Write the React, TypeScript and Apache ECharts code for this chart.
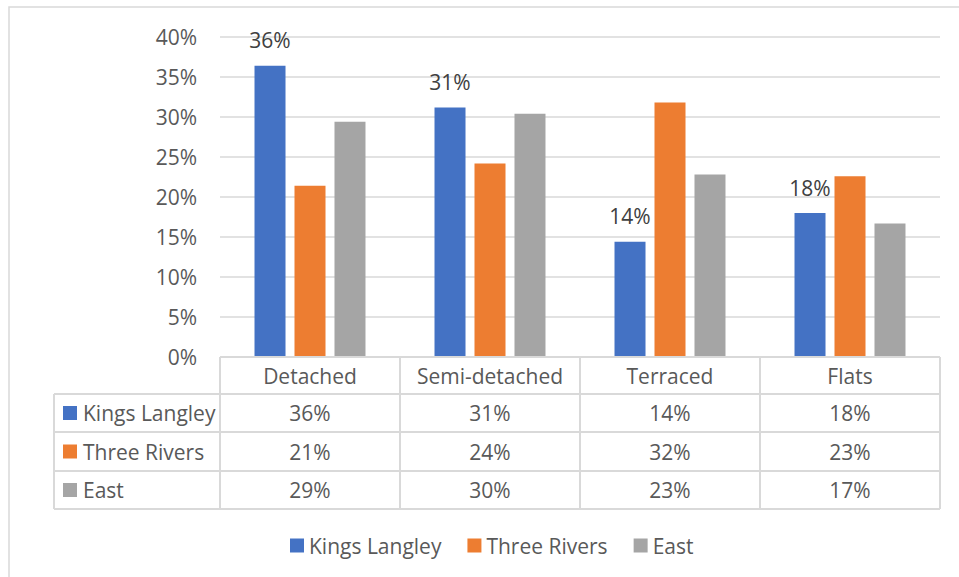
import React, { useEffect, useRef } from "react";
import * as echarts from "echarts";

const categories = ["Detached", "Semi-detached", "Terraced", "Flats"];
const seriesNames = ["Kings Langley", "Three Rivers", "East"];
const kingsLangley = [36.4, 31.2, 14.4, 18.0];
const threeRivers = [21.4, 24.2, 31.8, 22.6];
const east = [29.4, 30.4, 22.8, 16.7];
const yMin = 0;
const yMax = 40;
const yInterval = 5;

const colors = ["#4472C4", "#ED7D31", "#A5A5A5"];
const FONT = "'Open Sans', 'Noto Sans', sans-serif";
const TEXT = "#595959";
const LINE = "#d9d9d9";

const GRID_LEFT = 220;
const GRID_RIGHT_X = 940;
const GRID_TOP = 37;
const GRID_BOTTOM_Y = 357;
const HEADER_BOTTOM = 394;
const ROW_BOTTOMS = [432, 471, 509];
const TABLE_LEFT = 54;

export default function App() {
  const ref = useRef<HTMLDivElement>(null);

  useEffect(() => {
    if (!ref.current) return;
    const chart = echarts.init(ref.current, null, { renderer: "svg" });
    const allSeries = [kingsLangley, threeRivers, east];
    const colW = (GRID_RIGHT_X - GRID_LEFT) / categories.length;

    const graphics: any[] = [];
    // outer frame
    graphics.push({
      type: "rect",
      shape: { x: 9, y: 7, width: 980, height: 600 },
      style: { fill: "none", stroke: LINE, lineWidth: 1.5 },
      silent: true,
    });
    const hLine = (x1: number, x2: number, y: number) =>
      graphics.push({
        type: "line",
        shape: { x1, y1: y, x2, y2: y },
        style: { stroke: LINE, lineWidth: 2 },
        z: 10,
      });
    const vLine = (x: number, y1: number, y2: number) =>
      graphics.push({
        type: "line",
        shape: { x1: x, y1, x2: x, y2 },
        style: { stroke: LINE, lineWidth: 2 },
        z: 10,
      });
    hLine(GRID_LEFT, GRID_RIGHT_X, GRID_BOTTOM_Y);
    hLine(TABLE_LEFT, GRID_RIGHT_X, HEADER_BOTTOM);
    ROW_BOTTOMS.forEach((y) => hLine(TABLE_LEFT, GRID_RIGHT_X, y));
    vLine(TABLE_LEFT, HEADER_BOTTOM, ROW_BOTTOMS[2]);
    for (let i = 0; i <= categories.length; i++) {
      vLine(GRID_LEFT + i * colW, GRID_BOTTOM_Y, ROW_BOTTOMS[2]);
    }
    // header texts
    categories.forEach((c, i) => {
      graphics.push({
        type: "text",
        x: GRID_LEFT + (i + 0.5) * colW,
        y: (GRID_BOTTOM_Y + HEADER_BOTTOM) / 2,
        style: {
          text: c,
          fill: TEXT,
          fontSize: 21,
          fontFamily: FONT,
          align: "center",
          verticalAlign: "middle",
        },
      });
    });
    // rows
    const rowTops = [HEADER_BOTTOM, ROW_BOTTOMS[0], ROW_BOTTOMS[1]];
    seriesNames.forEach((name, r) => {
      const yc = (rowTops[r] + ROW_BOTTOMS[r]) / 2;
      graphics.push({
        type: "rect",
        shape: { x: 63, y: yc - 7, width: 14, height: 14 },
        style: { fill: colors[r] },
      });
      graphics.push({
        type: "text",
        x: 83,
        y: yc,
        style: {
          text: name,
          fill: TEXT,
          fontSize: 21,
          fontFamily: FONT,
          align: "left",
          verticalAlign: "middle",
        },
      });
      allSeries[r].forEach((v, i) => {
        graphics.push({
          type: "text",
          x: GRID_LEFT + (i + 0.5) * colW,
          y: yc,
          style: {
            text: Math.round(v) + "%",
            fill: TEXT,
            fontSize: 21,
            fontFamily: FONT,
            align: "center",
            verticalAlign: "middle",
          },
        });
      });
    });

    chart.setOption({
      animation: false,
      grid: {
        left: GRID_LEFT,
        right: 959 - GRID_RIGHT_X,
        top: GRID_TOP,
        bottom: 577 - GRID_BOTTOM_Y,
      },
      legend: {
        data: seriesNames,
        left: 285,
        top: 530,
        icon: "rect",
        itemWidth: 14,
        itemHeight: 14,
        itemGap: 26,
        textStyle: { color: TEXT, fontSize: 21, fontFamily: FONT },
      },
      xAxis: {
        type: "category",
        data: categories,
        axisLine: { show: false },
        axisTick: { show: false },
        axisLabel: { show: false },
      },
      yAxis: {
        type: "value",
        min: yMin,
        max: yMax,
        interval: yInterval,
        axisLine: { show: false },
        axisTick: { show: false },
        axisLabel: {
          formatter: "{value}%",
          color: TEXT,
          fontSize: 21,
          fontFamily: FONT,
          margin: 23,
        },
        splitLine: { lineStyle: { color: LINE, width: 1.5 } },
      },
      series: allSeries.map((d, i) => ({
        name: seriesNames[i],
        type: "bar",
        data: d,
        barWidth: 31,
        barGap: "29%",
        itemStyle: { color: colors[i] },
        label: {
          show: i === 0,
          position: "top",
          distance: 15,
          color: "#404040",
          fontSize: 21,
          fontFamily: FONT,
          formatter: (p: any) => Math.round(p.value) + "%",
        },
      })),
      graphic: graphics,
    });
    return () => chart.dispose();
  }, []);

  return (
    <div
      ref={ref}
      style={{ position: "absolute", left: 0, top: 0, width: 959, height: 577, background: "#fff" }}
    />
  );
}
